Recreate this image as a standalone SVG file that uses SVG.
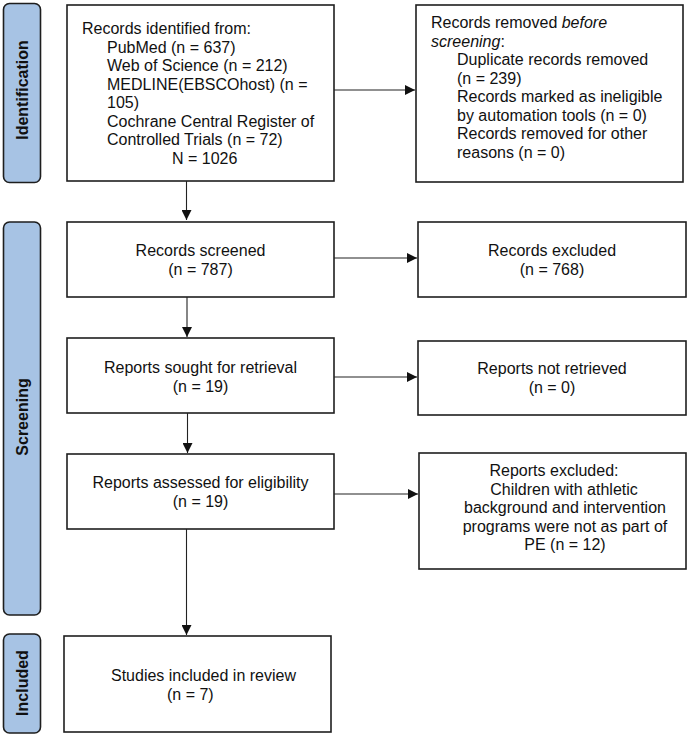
<svg xmlns="http://www.w3.org/2000/svg" width="689" height="735" viewBox="0 0 689 735">
<style>
  .box { fill: #ffffff; stroke: #1e1e1e; stroke-width: 1.6; }
  .side { fill: #a7c3e4; stroke: #1e1e1e; stroke-width: 1.6; }
  .t { font-family: "Liberation Sans", Arial, sans-serif; font-size: 16px; fill: #111; }
  .c { text-anchor: middle; }
  .lbl { font-family: "Liberation Sans", Arial, sans-serif; font-size: 16px; font-weight: bold; fill: #111; text-anchor: middle; }
  .conn { stroke: #222; stroke-width: 1.1; fill: none; marker-end: url(#ah); }
</style>
<defs>
  <marker id="ah" viewBox="0 0 10 10" refX="10" refY="5" markerWidth="10" markerHeight="10" markerUnits="userSpaceOnUse" orient="auto">
    <path d="M0,0 L10,5 L0,10 Z" fill="#111"/>
  </marker>
</defs>
<rect width="689" height="735" fill="#ffffff"/>

<g id="phase-identification">
  <rect class="side" x="3.5" y="3.5" width="37" height="179" rx="6"/>
  <text class="lbl" transform="translate(28,90) rotate(-90)">Identification</text>
</g>
<g id="phase-screening">
  <rect class="side" x="3.5" y="222" width="37" height="393" rx="6"/>
  <text class="lbl" transform="translate(28,417) rotate(-90)">Screening</text>
</g>
<g id="phase-included">
  <rect class="side" x="3.5" y="634" width="37" height="99" rx="6"/>
  <text class="lbl" transform="translate(28,683) rotate(-90)">Included</text>
</g>

<g id="records-identified">
  <rect class="box" x="67" y="5" width="267" height="176"/>
  <text class="t" x="82" y="34">Records identified from:</text>
  <text class="t" x="107" y="52.5">PubMed (n = 637)</text>
  <text class="t" x="107" y="71">Web of Science (n = 212)</text>
  <text class="t" x="107" y="89.5">MEDLINE(EBSCOhost) (n =</text>
  <text class="t" x="107" y="108">105)</text>
  <text class="t" x="107" y="126.5">Cochrane Central Register of</text>
  <text class="t" x="107" y="145">Controlled Trials (n = 72)</text>
  <text class="t" x="172" y="163.5">N = 1026</text>
</g>

<g id="records-removed">
  <rect class="box" x="416" y="5" width="267" height="177"/>
  <text class="t" x="431" y="28">Records removed <tspan font-style="italic">before</tspan></text>
  <text class="t" x="431" y="46.5"><tspan font-style="italic">screening</tspan>:</text>
  <text class="t" x="457" y="65">Duplicate records removed</text>
  <text class="t" x="457" y="83.5">(n = 239)</text>
  <text class="t" x="457" y="102">Records marked as ineligible</text>
  <text class="t" x="457" y="120.5">by automation tools (n = 0)</text>
  <text class="t" x="457" y="139">Records removed for other</text>
  <text class="t" x="457" y="157.5">reasons (n = 0)</text>
</g>

<g id="records-screened">
  <rect class="box" x="67" y="222" width="267" height="75"/>
  <text class="t c" x="200.5" y="256">Records screened</text>
  <text class="t c" x="200.5" y="275">(n = 787)</text>
</g>

<g id="records-excluded">
  <rect class="box" x="418" y="222" width="268" height="75"/>
  <text class="t c" x="552" y="256">Records excluded</text>
  <text class="t c" x="552" y="275">(n = 768)</text>
</g>

<g id="reports-sought">
  <rect class="box" x="67" y="338" width="267" height="75"/>
  <text class="t c" x="200.5" y="373">Reports sought for retrieval</text>
  <text class="t c" x="200.5" y="392">(n = 19)</text>
</g>

<g id="reports-not-retrieved">
  <rect class="box" x="418" y="341" width="268" height="74"/>
  <text class="t c" x="552" y="374">Reports not retrieved</text>
  <text class="t c" x="552" y="393">(n = 0)</text>
</g>

<g id="reports-assessed">
  <rect class="box" x="67" y="454" width="267" height="75"/>
  <text class="t c" x="200.5" y="488">Reports assessed for eligibility</text>
  <text class="t c" x="200.5" y="506.5">(n = 19)</text>
</g>

<g id="reports-excluded">
  <rect class="box" x="419" y="453" width="267" height="116"/>
  <text class="t c" x="554" y="476">Reports excluded:</text>
  <text class="t c" x="564" y="494.5">Children with athletic</text>
  <text class="t c" x="565" y="513">background and intervention</text>
  <text class="t c" x="565" y="531.5">programs were not as part of</text>
  <text class="t c" x="565" y="550">PE (n = 12)</text>
</g>

<g id="studies-included">
  <rect class="box" x="64" y="636" width="267" height="96"/>
  <text class="t" x="111" y="681">Studies included in review</text>
  <text class="t" x="167" y="700">(n = 7)</text>
</g>

<g id="connectors">
  <line class="conn" x1="334" y1="90" x2="415" y2="90"/>
  <line class="conn" x1="186.5" y1="181" x2="186.5" y2="220"/>
  <line class="conn" x1="334" y1="258" x2="417" y2="258"/>
  <line class="conn" x1="187" y1="297" x2="187" y2="337"/>
  <line class="conn" x1="334" y1="377" x2="417" y2="377"/>
  <line class="conn" x1="187.5" y1="413" x2="187.5" y2="453"/>
  <line class="conn" x1="334" y1="494" x2="418" y2="494"/>
  <line class="conn" x1="186.5" y1="529" x2="186.5" y2="635"/>
</g>
</svg>
